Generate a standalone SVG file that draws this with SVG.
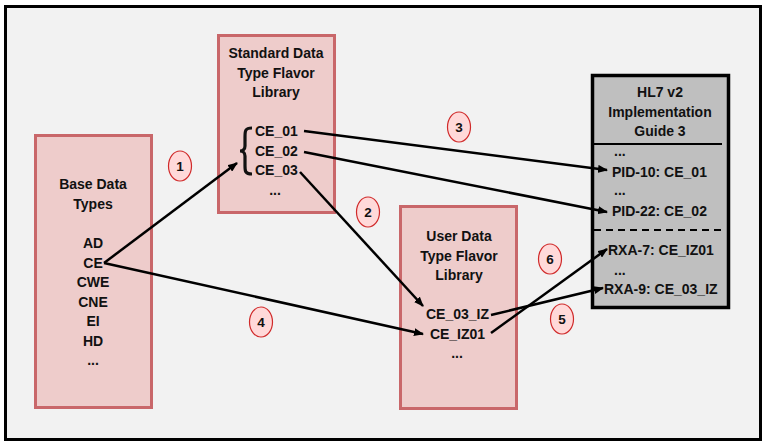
<svg xmlns="http://www.w3.org/2000/svg" width="767" height="446" viewBox="0 0 767 446">
<defs>
<marker id="ah" markerWidth="10" markerHeight="8" refX="9" refY="4" orient="auto" markerUnits="userSpaceOnUse">
<path d="M0,0 L10,4 L0,8 Z" fill="#000"/>
</marker>
<style>
.lib{fill:#eecccb;stroke:#c9676a;stroke-width:3}
.ig{fill:#bfbfbf;stroke:#000;stroke-width:3.5}
text{font-family:"Liberation Sans",Arial,sans-serif;font-weight:bold;font-size:14px;fill:#111}
.c{text-anchor:middle}
.con{stroke:#000;stroke-width:2.5;fill:none}
.num ellipse{fill:#ffd9d9;stroke:#d02a2a;stroke-width:1.2}
.num text{text-anchor:middle;font-size:13.5px}
</style>
</defs>
<rect x="5.5" y="6.5" width="755" height="433" fill="#f2f2f2" stroke="#000" stroke-width="3"/>

<g id="base">
<rect class="lib" x="35.5" y="135.5" width="116" height="272"/>
<text class="c" x="93" y="189">Base Data</text>
<text class="c" x="93" y="208.5">Types</text>
<text class="c" x="93" y="248">AD</text>
<text class="c" x="93" y="267.5">CE</text>
<text class="c" x="93" y="287">CWE</text>
<text class="c" x="93" y="306.5">CNE</text>
<text class="c" x="93" y="326">EI</text>
<text class="c" x="93" y="345.5">HD</text>
<text class="c" x="93" y="365">...</text>
</g>

<g id="standard">
<rect class="lib" x="218.5" y="35.5" width="116" height="177"/>
<text class="c" x="276" y="58">Standard Data</text>
<text class="c" x="276" y="77.5">Type Flavor</text>
<text class="c" x="276" y="97">Library</text>
<path d="M252,128 C245,128 245,131 245,137 L245,146 C245,149 243,151 240,151 C243,151 245,153 245,156 L245,166 C245,171 245,174 252,174" fill="none" stroke="#111" stroke-width="3.2"/>
<text x="255" y="136">CE_01</text>
<text x="255" y="155.5">CE_02</text>
<text x="255" y="175">CE_03</text>
<text class="c" x="275" y="195">...</text>
</g>

<g id="user">
<rect class="lib" x="400.5" y="206.5" width="116" height="202"/>
<text class="c" x="459" y="241">User Data</text>
<text class="c" x="459" y="260.5">Type Flavor</text>
<text class="c" x="459" y="280">Library</text>
<text class="c" x="457.5" y="319">CE_03_IZ</text>
<text class="c" x="457.5" y="338.5">CE_IZ01</text>
<text class="c" x="457" y="358">...</text>
</g>

<g id="ig">
<rect class="ig" x="592.5" y="75.5" width="136" height="232"/>
<text class="c" x="660" y="97">HL7 v2</text>
<text class="c" x="660" y="116.5">Implementation</text>
<text class="c" x="660" y="136">Guide 3</text>
<line x1="592" y1="144" x2="722" y2="144" stroke="#000" stroke-width="2"/>
<text x="614" y="156">...</text>
<text x="612" y="177">PID-10: CE_01</text>
<text x="614" y="195">...</text>
<text x="612" y="216">PID-22: CE_02</text>
<line x1="594" y1="230" x2="722" y2="230" stroke="#000" stroke-width="2" stroke-dasharray="7,5"/>
<text x="608" y="255">RXA-7: CE_IZ01</text>
<text x="614" y="275">...</text>
<text x="604" y="294">RXA-9: CE_03_IZ</text>
</g>

<g id="connectors">
<line class="con" x1="104" y1="263" x2="237" y2="163" marker-end="url(#ah)"/>
<line class="con" x1="104" y1="263" x2="423" y2="334" marker-end="url(#ah)"/>
<line class="con" x1="300" y1="172" x2="423" y2="306" marker-end="url(#ah)"/>
<line class="con" x1="304" y1="131" x2="607" y2="170" marker-end="url(#ah)"/>
<line class="con" x1="304" y1="152" x2="607" y2="212" marker-end="url(#ah)"/>
<line class="con" x1="491" y1="333" x2="607" y2="249" marker-end="url(#ah)"/>
<line class="con" x1="491" y1="315" x2="603" y2="288" marker-end="url(#ah)"/>
</g>

<g id="labels" class="num">
<g id="n1"><ellipse cx="180" cy="166" rx="11.5" ry="15"/><text x="180" y="171">1</text></g>
<g id="n2"><ellipse cx="368" cy="212" rx="11.5" ry="15"/><text x="368" y="217">2</text></g>
<g id="n3"><ellipse cx="459" cy="127" rx="11.5" ry="15"/><text x="459" y="132">3</text></g>
<g id="n4"><ellipse cx="261" cy="322" rx="11.5" ry="15"/><text x="261" y="327">4</text></g>
<g id="n5"><ellipse cx="562" cy="319" rx="11.5" ry="15"/><text x="562" y="324">5</text></g>
<g id="n6"><ellipse cx="550" cy="259" rx="11.5" ry="15"/><text x="550" y="264">6</text></g>
</g>
</svg>
